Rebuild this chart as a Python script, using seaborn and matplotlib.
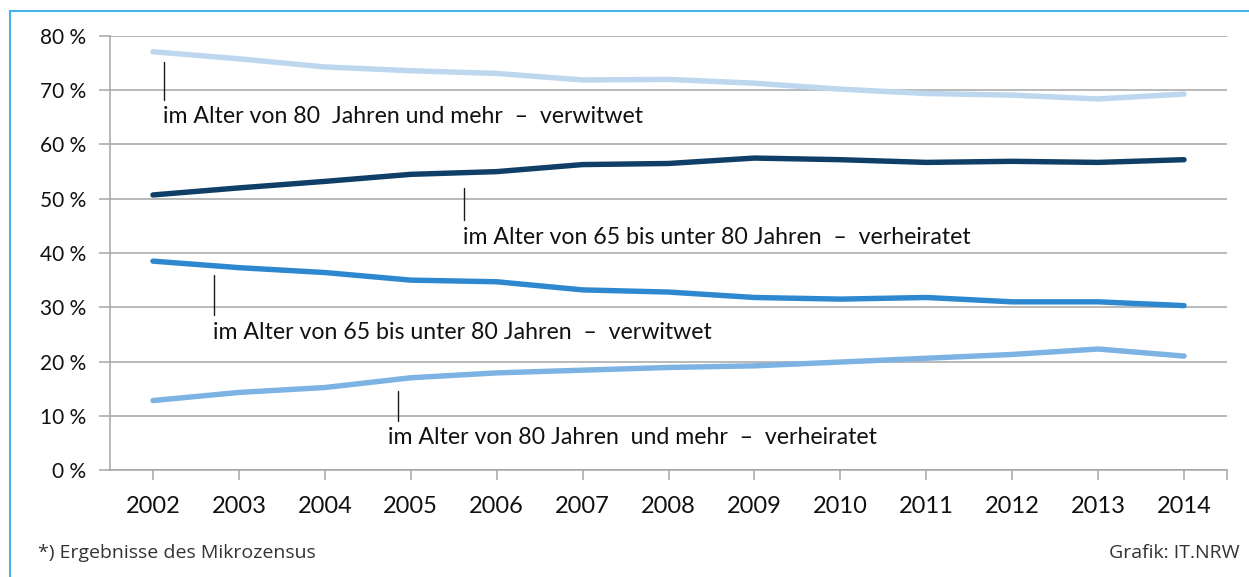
import matplotlib
matplotlib.use("Agg")
import matplotlib.pyplot as plt
import seaborn as sns
import pandas as pd
from matplotlib.patches import Rectangle
from matplotlib.ticker import FixedLocator

years = ["2002", "2003", "2004", "2005", "2006", "2007", "2008",
         "2009", "2010", "2011", "2012", "2013", "2014"]
s80_verwitwet = [77.1, 75.8, 74.3, 73.6, 73.1, 71.9, 72.0, 71.3, 70.2, 69.4, 69.1, 68.4, 69.3]
s65_verheiratet = [50.7, 52.0, 53.2, 54.5, 55.0, 56.3, 56.5, 57.5, 57.2, 56.7, 56.9, 56.7, 57.2]
s65_verwitwet = [38.5, 37.3, 36.4, 35.0, 34.7, 33.2, 32.8, 31.8, 31.5, 31.8, 31.0, 31.0, 30.3]
s80_verheiratet = [12.8, 14.3, 15.2, 17.0, 17.9, 18.4, 18.9, 19.2, 19.9, 20.6, 21.3, 22.3, 21.0]

series_names = [
    "im Alter von 80  Jahren und mehr  \u2013  verwitwet",
    "im Alter von 65 bis unter 80 Jahren  \u2013  verheiratet",
    "im Alter von 65 bis unter 80 Jahren  \u2013  verwitwet",
    "im Alter von 80 Jahren  und mehr  \u2013  verheiratet",
]
series_values = [s80_verwitwet, s65_verheiratet, s65_verwitwet, s80_verheiratet]
colors = ["#BDD7EE", "#0F3F66", "#2E88CF", "#7DB3E3"]

rows = []
for name, vals in zip(series_names, series_values):
    for i, v in enumerate(vals):
        rows.append({"idx": i, "year": years[i], "value": v, "series": name})
df = pd.DataFrame(rows)

sns.set_theme(style="white")
plt.rcParams["font.family"] = ["Lato", "DejaVu Sans"]

fig = plt.figure(figsize=(12.49, 5.77), dpi=100)
ax = fig.add_axes([110 / 1249, 1 - 470 / 577, (1227 - 110) / 1249, (470 - 36) / 577])

sns.lineplot(data=df, x="idx", y="value", hue="series", hue_order=series_names,
             palette=colors, linewidth=3.9, legend=False, ax=ax,
             solid_capstyle="round")

ax.set_xlim(-0.5, len(years) - 0.5)
ax.set_ylim(0, 80)
ax.set_xlabel("")
ax.set_ylabel("")

ax.set_yticks(range(0, 81, 10))
ax.set_yticklabels([f"{v} %" for v in range(0, 81, 10)], fontsize=15, color="#111111")
ax.set_xticks(range(len(years)))
ax.set_xticklabels(years, fontsize=17, color="#111111")
ax.xaxis.set_minor_locator(FixedLocator([len(years) - 0.5]))

ax.grid(axis="y", color="#A6A6A6", linewidth=1.1)
ax.set_axisbelow(True)
for sp in ["top", "right"]:
    ax.spines[sp].set_visible(False)
for sp in ["left", "bottom"]:
    ax.spines[sp].set_color("#A6A6A6")
    ax.spines[sp].set_linewidth(1.1)
ax.tick_params(axis="y", which="major", length=8, width=1.1, color="#A6A6A6", pad=9, left=True)
ax.tick_params(axis="x", which="both", length=7, width=1.1, color="#A6A6A6", pad=12, bottom=True, direction="out")

# labels with leader lines
label_specs = [
    (0.13, 75.2, 68.2, 0.12, 65.2),
    (3.62, 52.0, 46.0, 3.61, 42.8),
    (0.71, 35.9, 28.5, 0.70, 25.3),
    (2.85, 14.5, 9.1, 2.74, 5.9),
]
for name, (lx, ly0, ly1, tx, ty) in zip(series_names, label_specs):
    ax.plot([lx, lx], [ly0, ly1], color="#1a1a1a", linewidth=1.0)
    ax.text(tx, ty, name, fontsize=16.7, color="#111111", ha="left", va="center")

fig.text(38 / 1249, 1 - 553 / 577, "*) Ergebnisse des Mikrozensus", fontsize=14,
         color="#333333", ha="left", va="center", family=["Open Sans", "DejaVu Sans"])
fig.text(1240 / 1249, 1 - 553 / 577, "Grafik: IT.NRW", fontsize=14,
         color="#333333", ha="right", va="center", family=["Open Sans", "DejaVu Sans"])

# light blue frame
fig.patches.append(Rectangle((10 / 1249, -0.2), 1.2, 1 - 11 / 577 + 0.2,
                             transform=fig.transFigure, fill=False,
                             edgecolor="#45B3E7", linewidth=1.5))

fig.savefig("out.png", dpi=100)
